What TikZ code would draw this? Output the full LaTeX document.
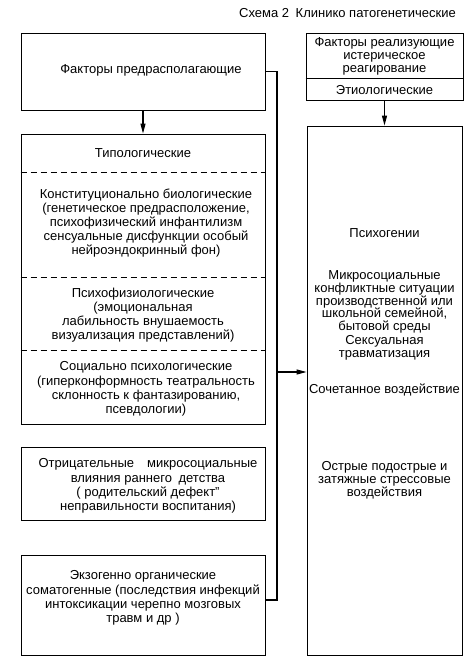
\documentclass[tikz,border=0pt]{standalone}
\usepackage{fontspec}
\setmainfont{Liberation Sans}
\usetikzlibrary{positioning, arrows.meta}

\tikzset{
  box/.style={draw, line width=0.9pt, inner sep=0pt},
  txt/.style={align=center, inner sep=0pt, font=\fontsize{13}{14.2}\selectfont},
  rtxt/.style={align=center, inner sep=0pt, font=\fontsize{13}{12.8}\selectfont},
  arr/.style={line width=1.1pt, -{Triangle[width=5pt,length=10pt]}},
  link/.style={line width=1.5pt}
}

\begin{document}
\begin{tikzpicture}[x=1pt, y=-1pt]
  \useasboundingbox (0,0) rectangle (474,666);

  \node[txt, anchor=east] (title) at (456,13) {Схема 2\enspace Клинико патогенетические};

  % left column
  \node[box, minimum width=244pt, minimum height=77pt] (pre) at (143,71.5) {};
  \node[txt] (preT) at (151,70) {Факторы предрасполагающие};

  \node[box, minimum width=244pt, minimum height=290pt] (typ) at (143,279) {};
  \node[txt] (t0) at (143,153) {Типологические};
  \node[txt] (t1) at (146,223)
    {Конституционально биологические\\(генетическое предрасположение,\\психофизический инфантилизм\\сенсуальные дисфункции особый\\нейроэндокринный фон)};
  \node[txt] (t2) at (143,315)
    {Психофизиологические\\(эмоциональная\\лабильность внушаемость\\визуализация представлений)};
  \node[txt] (t3) at (146,389)
    {Социально психологические\\(гиперконформность театральность\\склонность к фантазированию,\\псевдологии)};
  \draw[dashed, line width=0.9pt, dash pattern=on 6pt off 4pt] (typ.west |- 0,172) -- (typ.east |- 0,172);
  \draw[dashed, line width=0.9pt, dash pattern=on 6pt off 4pt] (typ.west |- 0,277) -- (typ.east |- 0,277);
  \draw[dashed, line width=0.9pt, dash pattern=on 6pt off 4pt] (typ.west |- 0,350) -- (typ.east |- 0,350);

  \node[box, minimum width=244pt, minimum height=73pt] (neg) at (143,483.5) {};
  \node[txt] (negT) at (148,486)
    {Отрицательные\quad микросоциальные\\влияния раннего\enspace детства\\( родительский дефект”\\неправильности воспитания)};

  \node[box, minimum width=244pt, minimum height=100pt] (exo) at (143,605) {};
  \node[txt] (exoT) at (143,598)
    {Экзогенно органические\\соматогенные (последствия инфекций\\интоксикации черепно мозговых\\травм и др )};

  % right column
  \node[box, minimum width=157pt, minimum height=67pt] (real) at (384.5,66.5) {};
  \node[rtxt] (realT) at (384.5,56.5) {Факторы реализующие\\истерическое\\реагирование};
  \draw[line width=0.9pt] (real.west |- 0,78) -- (real.east |- 0,78);
  \node[rtxt] (etio) at (384.5,90) {Этиологические};

  \node[box, minimum width=155pt, minimum height=529pt] (psy) at (384.5,390.5) {};
  \node[rtxt] (p0) at (384.5,233) {Психогении};
  \node[rtxt] (p1) at (384.5,302)
    {Микросоциальные\\конфликтные ситуации\\производственной или\\школьной семейной,\\бытовой среды};
  \node[rtxt] (p2) at (384.5,348) {Сексуальная\\травматизация};
  \node[rtxt] (p3) at (384.5,390) {Сочетанное воздействие};
  \node[rtxt] (p4) at (384.5,480) {Острые подострые и\\затяжные стрессовые\\воздействия};

  % connectors
  \coordinate (j1) at (277,71.5);
  \coordinate (j2) at (277,600);
  \coordinate (j3) at (277,372);
  \draw[arr] (pre.south) -- (typ.north);
  \draw[arr] (real.south) -- (psy.north);
  \draw[link] (pre.east) -- (j1) -- (j2) -- (j2 -| exo.east);
  \draw[arr] (j3) -- (j3 -| psy.west);
\end{tikzpicture}
\end{document}
